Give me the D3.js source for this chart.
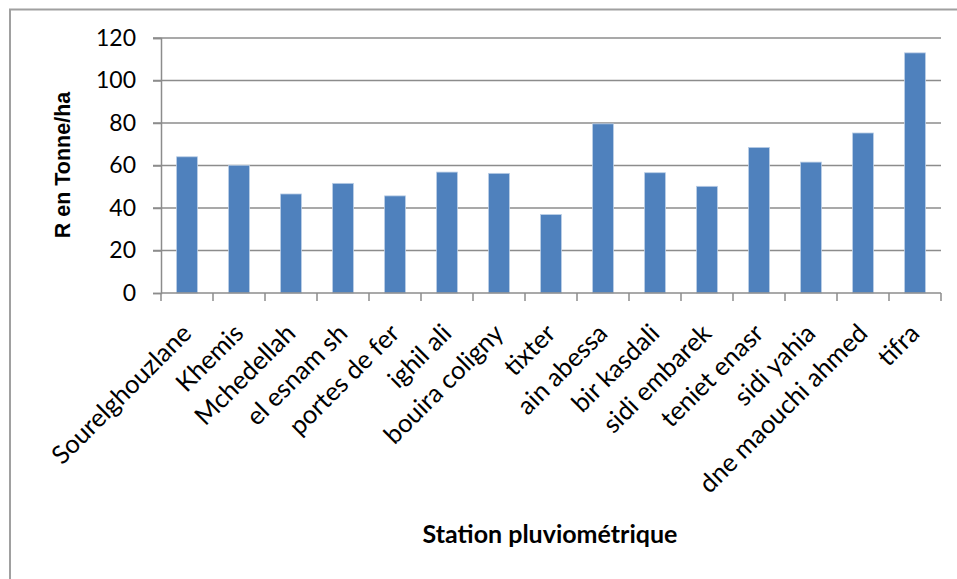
<!DOCTYPE html>
<html>
<head>
<meta charset="utf-8">
<script src="https://cdn.jsdelivr.net/npm/d3@7"></script>
<style>
  html, body { margin: 0; padding: 0; background: #fff; }
  svg { display: block; }
</style>
</head>
<body>
<svg id="chart" width="957" height="579"></svg>
<script>
// Érosivité R par station pluviométrique
const stations = [
  "Sourelghouzlane", "Khemis", "Mchedellah", "el esnam sh", "portes de fer",
  "ighil ali", "bouira coligny", "tixter", "ain abessa", "bir kasdali",
  "sidi embarek", "teniet enasr", "sidi yahia", "dne maouchi ahmed", "tifra"
];
const rValues = [64.1, 60.1, 46.6, 51.6, 45.7, 56.9, 56.3, 36.9, 79.6, 56.6, 50.2, 68.5, 61.6, 75.3, 113.0];
const yTicks = [0, 20, 40, 60, 80, 100, 120];
const yTitle = "R en Tonne/ha";
const xTitle = "Station pluviométrique";

const svg = d3.select("#chart");
const W = 957, H = 579;
const plot = { left: 161, right: 941, top: 38, bottom: 293 };
const gridColor = "#8c8c8c";
const tickFont = "Lato, 'Open Sans', sans-serif";

// chart area frame (left and top edges)
svg.append("path")
  .attr("d", `M10,${H} L10,9.5 L${W},9.5`)
  .attr("fill", "none")
  .attr("stroke", "#a0a0a0")
  .attr("stroke-width", 2);

const x = d3.scaleBand()
  .domain(stations)
  .range([plot.left, plot.right])
  .paddingInner(0.6)
  .paddingOuter(0.3);

const y = d3.scaleLinear()
  .domain([0, 120])
  .range([plot.bottom, plot.top]);

// horizontal gridlines
svg.append("g")
  .selectAll("line")
  .data(yTicks.filter(t => t > 0))
  .join("line")
  .attr("x1", plot.left - 8)
  .attr("x2", plot.right)
  .attr("y1", d => y(d))
  .attr("y2", d => y(d))
  .attr("stroke", gridColor)
  .attr("stroke-width", 1.5);

// bars
svg.append("g")
  .selectAll("rect")
  .data(rValues)
  .join("rect")
  .attr("x", (d, i) => x(stations[i]))
  .attr("y", d => y(d))
  .attr("width", x.bandwidth())
  .attr("height", d => y(0) - y(d))
  .attr("fill", "#4f81bd")
  .attr("stroke", "#b9cde5")
  .attr("stroke-width", 0.8);

// y axis
const yAxis = d3.axisLeft(y)
  .tickValues(yTicks)
  .tickSize(8)
  .tickPadding(17)
  .tickFormat(d3.format("d"));
const gy = svg.append("g")
  .attr("transform", `translate(${plot.left},0)`)
  .call(yAxis);
gy.select(".domain").attr("stroke", gridColor).attr("stroke-width", 1.5);
gy.selectAll(".tick line").attr("stroke", gridColor).attr("stroke-width", 1.5);
gy.selectAll(".tick text")
  .attr("font-family", tickFont)
  .attr("font-size", 23)
  .attr("fill", "#000");

// x axis: ticks between categories
const xAxisG = svg.append("g");
xAxisG.append("line")
  .attr("x1", plot.left).attr("x2", plot.right)
  .attr("y1", plot.bottom).attr("y2", plot.bottom)
  .attr("stroke", gridColor).attr("stroke-width", 1.5);
const boundaries = d3.range(stations.length + 1).map(i => plot.left + i * (plot.right - plot.left) / stations.length);
xAxisG.selectAll("line.tk")
  .data(boundaries)
  .join("line")
  .attr("class", "tk")
  .attr("x1", d => d).attr("x2", d => d)
  .attr("y1", plot.bottom).attr("y2", plot.bottom + 8)
  .attr("stroke", gridColor).attr("stroke-width", 1.5);

// rotated category labels
xAxisG.selectAll("text")
  .data(stations)
  .join("text")
  .attr("transform", d => `translate(${x(d) + x.bandwidth() / 2 + 6},${plot.bottom + 42}) rotate(-45)`)
  .attr("text-anchor", "end")
  .attr("font-family", tickFont)
  .attr("font-size", 25.5)
  .attr("fill", "#000")
  .text(d => d);

// axis titles
svg.append("text")
  .attr("transform", `translate(70,165) rotate(-90)`)
  .attr("text-anchor", "middle")
  .attr("font-family", "'Liberation Sans', Arial, sans-serif")
  .attr("font-weight", "bold")
  .attr("font-size", 21.5)
  .attr("fill", "#000")
  .text(yTitle);

svg.append("text")
  .attr("x", 550)
  .attr("y", 543)
  .attr("text-anchor", "middle")
  .attr("font-family", tickFont)
  .attr("font-weight", "bold")
  .attr("font-size", 25)
  .attr("fill", "#000")
  .text(xTitle);
</script>
</body>
</html>
